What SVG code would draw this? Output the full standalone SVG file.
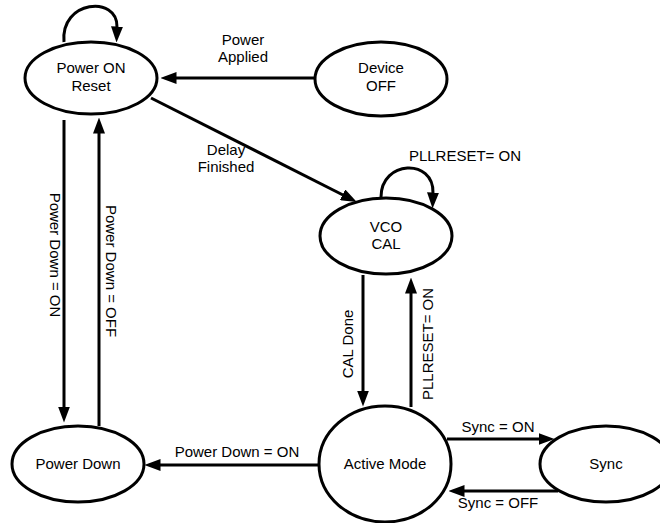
<svg xmlns="http://www.w3.org/2000/svg" width="660" height="523" viewBox="0 0 660 523">
<style>
.node ellipse{fill:#fff;stroke:#000;stroke-width:3}
text{font-family:"Liberation Sans",Arial,sans-serif;font-size:15px;fill:#000}
.c{text-anchor:middle}
#connectors path{fill:none;stroke:#000;stroke-width:3;marker-end:url(#arr)}
</style>
<defs>
<marker id="arr" viewBox="0 0 16 12" markerWidth="16" markerHeight="12" refX="0.5" refY="6" orient="auto" markerUnits="userSpaceOnUse">
<path d="M0,0 L16,6 L0,12 z" fill="#000"/>
</marker>
</defs>
<rect width="660" height="523" fill="#fff"/>
<g id="connectors">
<path d="M315,78 L176,78"/>
<path d="M151,98 L343,195"/>
<path d="M64,42 C60,0 118,-5 117,27"/>
<path d="M381,197 C381,160 434,158 433,193"/>
<path d="M363,275 L363,391"/>
<path d="M411,407 L411,293"/>
<path d="M64,120 L64,407"/>
<path d="M99,426 L99,133"/>
<path d="M320,465 L160,465"/>
<path d="M447,439 L539,439"/>
<path d="M558,491 L464,491"/>
</g>
<g id="labels">
<text class="c" x="243" y="45">Power</text>
<text class="c" x="243" y="62">Applied</text>
<text class="c" x="226" y="155">Delay</text>
<text class="c" x="226" y="172">Finished</text>
<text class="c" x="465" y="161">PLLRESET= ON</text>
<text class="c" transform="translate(55,255) rotate(90)" x="0" y="5">Power Down = ON</text>
<text class="c" transform="translate(111,271) rotate(90)" x="0" y="5">Power Down = OFF</text>
<text class="c" transform="translate(348,344) rotate(-90)" x="0" y="5">CAL Done</text>
<text class="c" transform="translate(428,344) rotate(-90)" x="0" y="5">PLLRESET= ON</text>
<text class="c" x="237" y="457">Power Down = ON</text>
<text class="c" x="498" y="432">Sync = ON</text>
<text class="c" x="498" y="508">Sync = OFF</text>
</g>
<g id="node-power-on-reset" class="node">
<ellipse cx="91" cy="78" rx="66" ry="36"/>
<text class="c" x="91" y="73">Power ON</text>
<text class="c" x="91" y="91">Reset</text>
</g>
<g id="node-device-off" class="node">
<ellipse cx="381" cy="79" rx="66" ry="37"/>
<text class="c" x="381" y="73">Device</text>
<text class="c" x="381" y="91">OFF</text>
</g>
<g id="node-vco-cal" class="node">
<ellipse cx="386" cy="236" rx="66" ry="38"/>
<text class="c" x="386" y="232">VCO</text>
<text class="c" x="386" y="249">CAL</text>
</g>
<g id="node-power-down" class="node">
<ellipse cx="78" cy="464" rx="66" ry="38"/>
<text class="c" x="78" y="469">Power Down</text>
</g>
<g id="node-active-mode" class="node">
<ellipse cx="385" cy="464" rx="66" ry="58"/>
<text class="c" x="385" y="469">Active Mode</text>
</g>
<g id="node-sync" class="node">
<ellipse cx="606" cy="464" rx="66" ry="38"/>
<text class="c" x="606" y="469">Sync</text>
</g>
</svg>
